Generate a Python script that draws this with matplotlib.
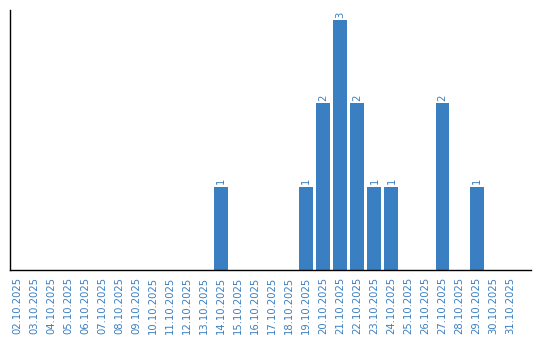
import matplotlib
matplotlib.use('Agg')
import matplotlib.pyplot as plt
import numpy as np

dates = ["%02d.10.2025" % d for d in range(2, 32)]
counts = [0, 0, 0, 0, 0, 0, 0, 0, 0, 0, 0, 0, 1, 0, 0, 0, 0, 1, 2, 3, 2, 1, 1, 0, 0, 2, 0, 1, 0, 0]

blue = '#3a7fc1'

fig = plt.figure(figsize=(5.4, 3.4), dpi=100)
ax = fig.add_axes([10 / 540, 70 / 340, 521 / 540, 260 / 340])

x = np.arange(len(dates))
ax.bar(x, counts, width=0.82, color=blue)

# value labels on top of each non-empty bar
for xi, c in zip(x, counts):
    if c > 0:
        ax.text(xi, c + 0.03, str(c), rotation=90, ha='center', va='bottom',
                fontsize=7.2, color=blue)

ax.set_xticks(x)
ax.set_xticklabels(dates, rotation=90, fontsize=7.2, color=blue)
ax.tick_params(axis='x', length=0, pad=5)
ax.set_yticks([])
ax.set_xlim(-0.41, 30.2)
ax.set_ylim(0, 3.12)
for s in ['top', 'right']:
    ax.spines[s].set_visible(False)
ax.spines['left'].set_linewidth(1.0)
ax.spines['bottom'].set_linewidth(1.0)

fig.savefig('out.png', dpi=100)
